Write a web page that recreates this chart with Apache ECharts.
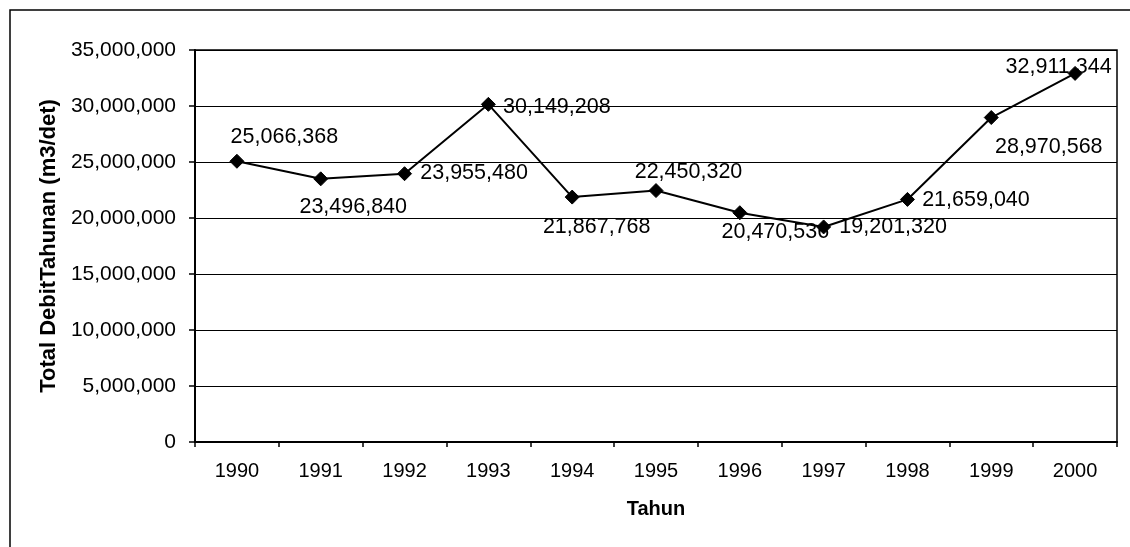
<!DOCTYPE html>
<html>
<head>
<meta charset="utf-8">
<script src="https://cdn.jsdelivr.net/npm/echarts@6/dist/echarts.min.js"></script>
<style>
  html, body { margin: 0; padding: 0; background: #fff; }
  #chart { width: 1130px; height: 547px; }
</style>
</head>
<body>
<div id="chart"></div>
<script>
// Annual discharge totals, 1990-2000
const years = ['1990', '1991', '1992', '1993', '1994', '1995', '1996', '1997', '1998', '1999', '2000'];
const totalDebit = [25066368, 23496840, 23955480, 30149208, 21867768, 22450320, 20470536, 19201320, 21659040, 28970568, 32911344];

// Where each value label sits, relative to its marker centre (px)
const labelOffsets = [
  [48, -24], [33, 29], [70, 0], [69, 3], [25, 30], [33, -18],
  [36, 20], [70, 1], [69, 1], [58, 30], [-16, -6]
];

const FONT = '"Liberation Sans", Arial, sans-serif';
const SYMBOL = 14;

const fmt = v => v.toLocaleString('en-US');

const chart = echarts.init(document.getElementById('chart'), null, { renderer: 'canvas' });

chart.setOption({
  animation: false,
  backgroundColor: '#fff',
  textStyle: { fontFamily: FONT, color: '#000' },
  graphic: [{
    type: 'polyline',
    shape: { points: [[10, 547], [10, 10], [1130, 10]] },
    style: { stroke: '#000', lineWidth: 1.5, fill: null },
    silent: true
  }],
  grid: {
    left: 195, right: 13, top: 50, bottom: 105,
    show: true, borderColor: '#000', borderWidth: 1.5
  },
  xAxis: {
    type: 'category',
    data: years,
    boundaryGap: true,
    name: 'Tahun',
    nameLocation: 'middle',
    nameGap: 57,
    nameTextStyle: { fontFamily: FONT, fontSize: 20, fontWeight: 'bold', color: '#000' },
    axisLine: { lineStyle: { color: '#000', width: 2 } },
    axisTick: { show: true, length: 5, lineStyle: { color: '#000', width: 1.5 } },
    axisLabel: { fontFamily: FONT, fontSize: 20, color: '#000', margin: 19 },
    splitLine: { show: false }
  },
  yAxis: {
    type: 'value',
    min: 0,
    max: 35000000,
    interval: 5000000,
    name: 'Total DebitTahunan (m3/det)',
    nameLocation: 'middle',
    nameGap: 129,
    nameTextStyle: { fontFamily: FONT, fontSize: 22, fontWeight: 'bold', color: '#000' },
    axisLine: { show: true, lineStyle: { color: '#000', width: 2 } },
    axisTick: { show: true, length: 6, lineStyle: { color: '#000', width: 1.5 } },
    axisLabel: { fontFamily: FONT, fontSize: 21, color: '#000', margin: 19, formatter: fmt },
    splitLine: { show: true, lineStyle: { color: '#000', width: 1.2 } }
  },
  series: [{
    type: 'line',
    data: totalDebit.map((v, i) => ({
      value: v,
      label: {
        position: [SYMBOL / 2 + labelOffsets[i][0], SYMBOL / 2 + labelOffsets[i][1]]
      }
    })),
    symbol: 'diamond',
    symbolSize: SYMBOL,
    lineStyle: { color: '#000', width: 2 },
    itemStyle: { color: '#000', borderColor: '#000' },
    label: {
      show: true,
      align: 'center',
      verticalAlign: 'middle',
      fontFamily: FONT,
      fontSize: 21.5,
      color: '#000',
      formatter: p => fmt(p.value)
    }
  }]
});
</script>
</body>
</html>
